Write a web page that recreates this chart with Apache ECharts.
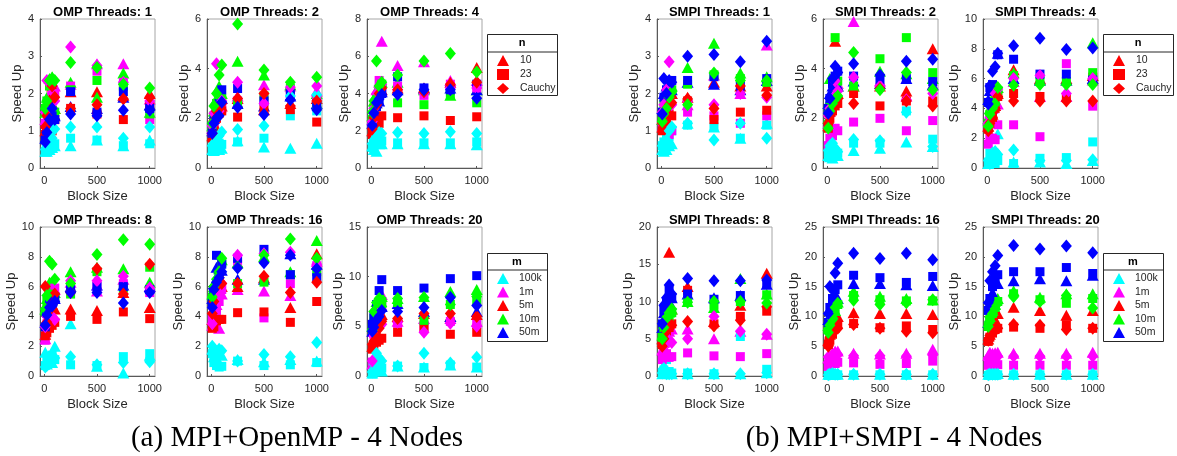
<!DOCTYPE html>
<html>
<head>
<meta charset="utf-8">
<script src="https://cdn.jsdelivr.net/npm/echarts@6/dist/echarts.min.js"></script>
<style>
  html, body { margin: 0; padding: 0; background: #fff; }
  #main { width: 1177px; height: 456px; }
</style>
</head>
<body>
<div id="main"></div>
<script>
// block sizes on the x axis
var blockSizes = [10, 25, 50, 75, 100, 250, 500, 750, 1000];
var mNames = ['100k', '1m', '5m', '10m', '50m'];
var mColors = ['#00ffff', '#ff00ff', '#ff0000', '#00ff00', '#0000ff'];
var nNames = ['10', '23', 'Cauchy'];
var nSymbols = ['triangle', 'rect', 'diamond'];

var panelTitles = ['OMP Threads: 1', 'OMP Threads: 2', 'OMP Threads: 4',
                   'OMP Threads: 8', 'OMP Threads: 16', 'OMP Threads: 20',
                   'SMPI Threads: 1', 'SMPI Threads: 2', 'SMPI Threads: 4',
                   'SMPI Threads: 8', 'SMPI Threads: 16', 'SMPI Threads: 20'];
var yMax = [4, 6, 8, 10, 10, 15, 4, 6, 10, 20, 25, 25];
var yStep = [1, 2, 2, 2, 2, 5, 1, 2, 2, 5, 5, 5];
var xTicks = [0, 500, 1000];

// rows per panel: 100k (tri, sq, dia), 1m (...), 5m, 10m, 50m
var omp1 = [
  [0.45, 0.45, 0.5, 0.55, 0.6, 0.6, 0.75, 0.6, 0.75],
  [0.45, 0.5, 0.55, 0.6, 0.65, 0.8, 0.75, 0.6, 0.65],
  [0.5, 0.6, 0.7, 0.8, 1.05, 1.1, 1.1, 0.8, 1.1],
  [1.3, 1.7, 1.9, 2.1, 2.2, 2.25, 2.8, 2.8, 1.85],
  [1.2, 1.5, 1.8, 2.0, 2.0, 2.2, 2.6, 2.3, 1.3],
  [1.5, 2.35, 2.3, 2.0, 1.8, 3.25, 2.75, 2.3, 1.8],
  [1.0, 1.2, 1.5, 2.2, 1.6, 2.05, 2.05, 1.95, 2.0],
  [0.9, 1.0, 1.05, 1.0, 1.3, 1.6, 1.45, 1.3, 1.65],
  [1.1, 1.4, 1.8, 2.2, 1.9, 1.6, 1.7, 1.85, 1.9],
  [1.5, 1.9, 2.4, 2.45, 1.6, 2.3, 1.9, 2.55, 1.5],
  [1.6, 1.8, 2.2, 2.3, 1.5, 2.1, 2.35, 2.2, 1.45],
  [1.6, 1.8, 2.35, 2.4, 2.35, 2.83, 2.7, 2.25, 2.15],
  [0.8, 1.1, 1.3, 1.5, 1.4, 1.65, 1.6, 1.9, 1.7],
  [0.75, 1.0, 1.2, 1.4, 1.3, 2.05, 1.5, 2.05, 1.6],
  [0.7, 0.95, 1.3, 1.6, 1.3, 1.45, 1.4, 1.55, 1.55]
];
var omp2 = [
  [0.75, 0.7, 0.8, 0.75, 0.8, 1.1, 0.85, 0.8, 1.0],
  [0.8, 0.85, 0.9, 1.0, 0.95, 1.05, 1.2, 2.1, 2.3],
  [0.9, 1.0, 1.2, 1.3, 1.45, 1.55, 1.7, 2.9, 2.95],
  [1.6, 2.0, 2.4, 2.6, 2.8, 2.9, 3.35, 3.3, 3.1],
  [1.5, 1.8, 2.1, 2.3, 2.4, 2.7, 2.75, 3.0, 2.8],
  [1.7, 2.2, 4.2, 2.3, 2.7, 3.45, 2.6, 3.25, 3.3],
  [1.3, 1.8, 2.2, 2.4, 2.5, 2.8, 2.35, 2.6, 2.8],
  [1.2, 1.6, 2.0, 2.2, 2.3, 2.05, 2.35, 2.35, 1.85],
  [1.4, 1.9, 2.3, 2.4, 2.6, 2.8, 3.0, 2.5, 2.7],
  [1.7, 2.3, 2.8, 3.3, 3.0, 4.3, 3.75, 3.35, 3.0],
  [1.6, 2.1, 2.6, 2.9, 2.8, 2.6, 2.9, 3.2, 2.5],
  [1.8, 2.5, 3.0, 3.75, 4.15, 5.8, 3.95, 3.45, 3.65],
  [1.5, 2.0, 2.4, 2.7, 2.8, 2.6, 2.5, 2.9, 2.6],
  [1.4, 1.9, 2.3, 2.6, 3.15, 3.2, 2.7, 3.0, 2.6],
  [1.4, 1.8, 2.0, 2.1, 2.65, 2.45, 2.15, 2.75, 2.35]
];
var omp4 = [
  [1.2, 1.0, 0.9, 1.3, 1.3, 1.3, 1.3, 1.3, 1.25],
  [1.1, 1.2, 1.4, 1.5, 1.45, 1.35, 1.35, 1.35, 1.4],
  [1.3, 1.5, 1.7, 1.9, 1.85, 1.9, 1.85, 1.95, 1.85],
  [2.6, 3.3, 4.2, 4.6, 6.8, 5.5, 5.7, 4.7, 4.7],
  [2.4, 3.0, 3.8, 4.7, 4.3, 4.4, 3.9, 4.5, 4.3],
  [2.5, 3.2, 4.0, 4.4, 4.5, 4.2, 4.0, 4.3, 4.3],
  [2.0, 2.8, 3.5, 4.1, 4.2, 4.3, 4.3, 4.6, 5.4],
  [1.8, 2.2, 2.6, 2.4, 2.8, 2.7, 2.8, 2.55, 2.75],
  [2.1, 2.7, 3.4, 4.0, 4.3, 4.2, 4.1, 4.5, 4.6],
  [2.8, 3.6, 4.0, 4.4, 4.6, 4.6, 4.2, 3.9, 4.2],
  [2.6, 3.2, 3.8, 4.2, 4.5, 3.5, 3.4, 3.9, 3.5],
  [3.0, 3.6, 5.75, 4.4, 4.6, 5.0, 5.75, 6.15, 5.15],
  [2.4, 3.0, 3.5, 3.6, 4.1, 4.2, 4.3, 4.3, 4.2],
  [2.3, 3.0, 3.3, 3.6, 4.0, 4.9, 4.3, 4.2, 4.5],
  [2.3, 2.95, 3.5, 3.7, 3.95, 3.95, 4.2, 4.2, 3.75]
];
var omp8 = [
  [1.6, 0.8, 1.2, 0.9, 2.0, 3.5, 0.65, 0.2, 1.4],
  [0.7, 1.0, 1.3, 1.4, 1.1, 0.75, 0.7, 1.3, 1.5],
  [0.6, 0.7, 0.9, 1.1, 1.2, 1.3, 0.75, 0.9, 0.95],
  [2.5, 4.5, 5.5, 6.0, 5.8, 6.3, 5.7, 6.5, 6.0],
  [2.4, 3.5, 4.5, 5.5, 5.9, 6.0, 6.0, 6.2, 5.6],
  [3.3, 4.0, 4.5, 4.0, 3.8, 6.4, 6.4, 6.7, 5.9],
  [2.8, 3.5, 4.5, 4.8, 4.5, 4.5, 4.4, 5.6, 4.6],
  [2.7, 2.9, 3.2, 3.4, 3.6, 4.0, 3.8, 4.3, 3.85],
  [6.0, 3.6, 4.4, 4.8, 5.5, 5.6, 7.2, 5.5, 7.5],
  [4.5, 5.2, 6.3, 6.0, 5.6, 7.0, 7.3, 7.2, 6.3],
  [4.3, 5.0, 5.5, 5.2, 5.3, 5.5, 7.0, 5.9, 7.3],
  [4.5, 5.4, 7.7, 7.5, 6.5, 6.2, 8.15, 9.15, 8.85],
  [3.6, 4.5, 5.0, 5.1, 5.2, 6.0, 6.1, 6.1, 6.0],
  [3.3, 4.2, 4.9, 5.2, 5.3, 5.8, 6.0, 6.0, 5.8],
  [3.4, 4.1, 4.6, 4.7, 5.0, 5.6, 5.6, 4.9, 5.6]
];
var omp16 = [
  [1.8, 1.3, 1.0, 0.9, 1.4, 1.1, 0.95, 1.1, 1.0],
  [1.5, 0.9, 0.7, 0.6, 0.65, 1.0, 0.7, 0.75, 0.9],
  [2.0, 1.7, 1.5, 1.8, 1.7, 1.0, 1.45, 1.3, 2.25],
  [3.4, 4.0, 4.8, 3.2, 5.5, 5.8, 5.7, 5.4, 7.7],
  [3.8, 4.2, 4.4, 5.0, 5.8, 7.5, 3.9, 6.2, 7.4],
  [3.5, 4.5, 5.5, 5.9, 6.2, 8.1, 8.2, 8.3, 7.5],
  [3.8, 5.0, 6.3, 7.5, 6.0, 6.0, 6.6, 4.6, 8.2],
  [3.2, 3.3, 3.7, 3.8, 3.8, 4.25, 4.3, 3.6, 5.0],
  [4.2, 5.0, 6.0, 6.6, 6.2, 6.2, 6.7, 5.6, 6.3],
  [5.5, 6.0, 6.5, 7.2, 7.8, 7.6, 8.0, 7.0, 9.1],
  [5.3, 5.8, 6.2, 6.8, 7.6, 6.2, 6.3, 6.8, 7.0],
  [5.3, 6.0, 6.5, 7.0, 7.9, 7.3, 8.1, 9.2, 7.9],
  [5.2, 6.2, 7.3, 7.5, 7.1, 6.5, 6.5, 8.2, 7.5],
  [5.0, 5.8, 8.1, 7.0, 7.5, 7.9, 8.5, 6.8, 6.6],
  [4.6, 5.8, 6.3, 6.6, 7.0, 7.25, 7.6, 8.1, 7.2]
];
var omp20 = [
  [0.3, 0.5, 1.5, 0.9, 0.5, 1.0, 0.9, 1.1, 0.9],
  [0.2, 0.4, 0.6, 1.2, 0.8, 1.0, 0.85, 1.1, 0.9],
  [0.4, 1.2, 2.3, 1.8, 1.5, 1.0, 2.3, 1.3, 1.9],
  [1.2, 4.5, 6.0, 7.0, 8.2, 5.5, 5.8, 5.8, 5.5],
  [1.4, 4.2, 5.5, 6.5, 7.0, 5.3, 5.0, 5.5, 5.2],
  [1.5, 4.0, 5.0, 6.5, 5.2, 5.4, 4.4, 5.3, 5.0],
  [3.0, 3.6, 4.5, 5.5, 6.2, 6.0, 6.3, 6.0, 6.2],
  [2.7, 3.2, 3.4, 3.6, 3.8, 4.4, 4.8, 4.2, 4.4],
  [3.2, 3.5, 3.8, 4.8, 5.5, 5.8, 6.3, 6.3, 6.0],
  [5.0, 6.0, 7.5, 7.8, 8.0, 7.8, 8.0, 8.5, 8.7],
  [4.8, 5.8, 7.0, 7.3, 7.5, 7.4, 5.6, 7.2, 7.6],
  [4.6, 6.5, 7.4, 7.8, 7.0, 7.8, 7.9, 7.2, 8.0],
  [4.5, 5.5, 6.5, 7.2, 7.0, 7.3, 6.5, 6.0, 6.5],
  [5.2, 6.0, 7.2, 8.6, 9.7, 8.6, 8.85, 9.8, 10.1],
  [4.5, 4.9, 5.6, 6.0, 6.6, 6.5, 6.9, 7.9, 7.1]
];
var smpi1 = [
  [0.5, 0.45, 0.5, 0.6, 0.65, 1.2, 1.1, 0.8, 1.2],
  [0.6, 0.7, 0.8, 0.85, 1.0, 1.15, 1.1, 0.8, 1.15],
  [0.6, 0.65, 0.75, 1.0, 1.1, 1.2, 0.75, 1.2, 0.8],
  [1.3, 1.6, 1.8, 1.9, 2.0, 1.7, 2.5, 2.0, 3.3],
  [1.1, 1.3, 1.5, 0.9, 1.0, 1.5, 1.4, 1.2, 1.4],
  [1.5, 1.7, 2.1, 2.85, 1.7, 1.8, 1.7, 2.0, 1.9],
  [1.1, 1.3, 1.6, 1.8, 2.0, 1.9, 2.3, 2.2, 2.2],
  [1.0, 1.1, 1.2, 1.45, 1.4, 1.8, 1.3, 1.5, 1.55],
  [1.2, 1.4, 1.6, 1.7, 1.75, 1.85, 1.6, 2.2, 1.95],
  [1.3, 1.6, 2.0, 2.1, 2.2, 2.7, 3.35, 2.55, 2.45],
  [1.4, 1.7, 1.9, 2.0, 2.1, 2.25, 2.5, 2.4, 2.3],
  [1.25, 1.45, 1.6, 1.9, 2.05, 1.7, 2.55, 2.35, 2.35],
  [1.6, 2.0, 2.2, 2.3, 2.1, 2.3, 2.25, 2.1, 2.35],
  [1.5, 1.9, 2.1, 2.2, 2.35, 2.35, 2.45, 2.2, 2.4],
  [1.45, 2.4, 2.0, 2.35, 2.3, 3.0, 3.05, 2.85, 3.4]
];
var smpi2 = [
  [0.5, 0.45, 0.4, 0.6, 0.5, 0.7, 0.8, 1.05, 0.87],
  [0.6, 0.9, 0.7, 0.5, 0.6, 1.0, 1.0, 2.3, 1.16],
  [0.7, 0.9, 1.0, 0.8, 0.65, 1.15, 1.1, 2.25, 0.87],
  [1.8, 2.3, 2.6, 3.0, 3.4, 5.9, 3.5, 2.9, 3.35],
  [0.9, 1.2, 1.3, 1.6, 1.5, 1.85, 2.0, 1.5, 1.91],
  [2.1, 2.4, 2.8, 3.5, 3.1, 3.65, 3.3, 2.75, 3.0],
  [1.7, 2.3, 2.8, 5.1, 3.0, 3.3, 3.3, 3.1, 4.8],
  [1.6, 2.0, 2.3, 2.5, 2.6, 3.0, 2.5, 2.7, 2.7],
  [1.8, 2.1, 2.4, 2.5, 2.8, 2.6, 3.2, 2.7, 2.5],
  [2.0, 3.6, 2.8, 3.3, 3.3, 3.3, 3.9, 3.8, 3.6],
  [2.3, 2.5, 2.7, 5.25, 3.5, 3.3, 4.4, 5.25, 3.84],
  [1.6, 2.3, 2.6, 2.8, 2.9, 4.65, 3.15, 3.85, 3.15],
  [2.6, 3.0, 3.3, 3.6, 3.3, 3.5, 3.4, 3.6, 3.35],
  [2.4, 2.8, 3.4, 3.7, 3.9, 3.7, 3.55, 3.6, 3.48],
  [2.2, 2.8, 3.6, 4.1, 3.85, 4.2, 3.75, 4.3, 4.38]
];
var smpi4 = [
  [0.3, 0.5, 0.9, 1.0, 2.3, 0.4, 0.4, 0.3, 0.5],
  [0.4, 1.0, 0.6, 0.3, 0.5, 0.3, 0.65, 0.7, 1.75],
  [0.5, 0.3, 1.0, 1.1, 0.9, 1.2, 0.5, 0.5, 0.55],
  [3.2, 3.6, 4.0, 4.2, 4.3, 5.8, 4.8, 4.8, 5.9],
  [1.6, 2.0, 2.0, 1.9, 2.9, 2.9, 2.1, 7.0, 4.15],
  [3.0, 3.4, 3.9, 5.0, 5.3, 6.0, 6.2, 5.0, 6.0],
  [2.8, 3.2, 3.6, 4.2, 5.0, 6.6, 6.0, 6.0, 6.2],
  [2.6, 3.0, 3.4, 4.0, 4.8, 5.0, 4.8, 4.7, 6.1],
  [2.5, 3.0, 3.4, 4.0, 4.8, 4.5, 4.5, 4.5, 4.5],
  [3.3, 4.0, 4.5, 5.0, 5.4, 6.4, 5.9, 5.9, 8.4],
  [3.0, 3.6, 4.0, 4.5, 5.2, 6.2, 5.8, 5.8, 6.4],
  [2.8, 3.6, 4.0, 4.3, 5.4, 5.55, 5.6, 5.6, 5.6],
  [4.6, 5.2, 5.5, 5.4, 7.7, 6.0, 5.9, 5.9, 6.0],
  [4.4, 5.4, 5.6, 5.2, 7.6, 7.3, 6.3, 6.3, 5.9],
  [4.3, 5.5, 6.5, 6.8, 7.7, 8.2, 8.7, 7.95, 8.05]
];
var smpi8 = [
  [0.3, 1.5, 0.5, 0.4, 0.3, 0.3, 0.3, 0.3, 0.45],
  [0.5, 0.8, 2.2, 0.6, 0.4, 0.4, 0.3, 5.3, 0.9],
  [0.4, 1.0, 0.3, 0.3, 0.3, 0.3, 0.3, 0.3, 0.45],
  [3.5, 4.5, 5.0, 6.0, 6.3, 6.3, 5.0, 6.0, 5.6],
  [2.2, 2.6, 3.0, 2.5, 2.6, 3.1, 2.7, 2.6, 3.0],
  [3.0, 3.4, 4.3, 4.8, 4.5, 5.0, 8.0, 6.0, 5.6],
  [5.0, 6.0, 7.5, 16.6, 9.0, 12.0, 7.3, 9.5, 13.8],
  [4.2, 5.0, 6.0, 6.5, 7.0, 11.5, 7.0, 8.0, 8.7],
  [4.0, 5.0, 6.0, 6.5, 6.8, 7.3, 6.7, 7.5, 9.3],
  [5.5, 7.0, 8.0, 8.6, 9.0, 10.0, 9.2, 13.1, 11.0],
  [5.2, 6.5, 7.5, 8.0, 8.5, 10.0, 9.5, 10.0, 10.9],
  [5.0, 6.5, 7.8, 8.5, 9.0, 9.9, 10.0, 10.0, 9.8],
  [6.5, 8.5, 9.5, 10.0, 10.5, 11.0, 10.5, 10.8, 12.3],
  [7.0, 8.8, 10.0, 11.5, 10.5, 11.0, 10.3, 10.8, 12.5],
  [7.0, 9.5, 10.5, 12.2, 11.0, 13.1, 12.8, 12.8, 12.9]
];
var smpi16 = [
  [0.3, 0.3, 0.5, 0.3, 0.3, 0.3, 0.3, 0.3, 0.3],
  [0.1, 0.2, 0.3, 0.2, 0.2, 0.2, 0.2, 0.2, 0.2],
  [0.2, 0.3, 0.4, 0.3, 0.3, 0.3, 0.3, 0.3, 0.3],
  [3.0, 3.5, 4.0, 4.2, 4.2, 3.8, 3.7, 3.8, 4.5],
  [1.6, 2.0, 2.2, 2.1, 2.3, 2.2, 1.95, 2.1, 2.5],
  [3.2, 3.0, 3.3, 3.4, 3.6, 3.4, 3.4, 3.3, 3.5],
  [6.0, 7.0, 8.5, 9.5, 10.0, 10.6, 10.5, 10.5, 10.3],
  [5.3, 6.0, 7.0, 8.0, 8.6, 8.8, 8.1, 8.4, 7.8],
  [5.0, 6.5, 7.5, 7.8, 8.0, 8.65, 8.0, 7.5, 7.25],
  [8.5, 9.5, 10.5, 11.0, 12.4, 14.2, 13.4, 13.0, 12.8],
  [7.8, 9.0, 10.0, 11.0, 12.0, 13.5, 12.8, 12.6, 12.6],
  [7.3, 8.5, 9.5, 11.5, 12.2, 12.7, 12.0, 12.3, 12.8],
  [9.5, 11.0, 12.5, 13.5, 13.0, 15.5, 15.5, 15.3, 15.2],
  [9.0, 11.5, 13.0, 14.5, 15.3, 16.9, 16.5, 15.7, 16.7],
  [10.5, 15.0, 14.5, 17.3, 18.9, 20.6, 19.7, 20.6, 19.5]
];
var smpi20 = [
  [0.3, 0.4, 0.3, 0.3, 0.4, 0.3, 0.3, 0.3, 0.3],
  [0.1, 0.2, 0.2, 0.2, 0.2, 0.2, 0.2, 0.2, 0.2],
  [0.2, 0.3, 0.3, 0.3, 0.3, 0.3, 0.3, 0.3, 0.3],
  [3.5, 4.0, 3.8, 3.9, 4.0, 3.8, 3.8, 3.8, 4.0],
  [1.8, 1.9, 2.0, 2.0, 1.9, 1.8, 1.8, 1.8, 1.8],
  [3.0, 3.2, 3.3, 3.4, 3.3, 3.3, 3.3, 3.3, 3.3],
  [6.2, 7.0, 8.0, 9.5, 10.5, 11.55, 11.0, 10.2, 11.0],
  [5.8, 6.5, 7.2, 7.8, 8.0, 8.2, 8.0, 8.6, 8.0],
  [6.0, 6.8, 7.5, 7.8, 8.0, 8.65, 8.5, 7.8, 8.0],
  [9.0, 10.0, 11.0, 12.0, 13.0, 14.3, 13.2, 13.8, 13.8],
  [8.3, 9.5, 10.5, 11.5, 12.5, 13.8, 12.8, 12.2, 13.0],
  [8.3, 9.8, 10.5, 11.3, 12.2, 13.3, 12.5, 13.5, 11.4],
  [9.0, 12.0, 14.0, 15.5, 15.5, 16.0, 16.3, 16.0, 16.9],
  [11.0, 13.0, 15.0, 16.5, 17.0, 17.5, 17.5, 18.2, 17.2],
  [12.3, 16.0, 17.5, 18.5, 20.2, 21.9, 21.3, 21.8, 20.7]
];

var panels = [omp1, omp2, omp4, omp8, omp16, omp20,
              smpi1, smpi2, smpi4, smpi8, smpi16, smpi20];

var chart = echarts.init(document.getElementById('main'));
var textColor = '#262626';
var font = 'Liberation Sans, Arial, sans-serif';
var colLefts = [40, 207, 367, 657, 823, 983];
var rowTops = [19, 227];
var gridW = 115, gridH = 149;
var symSizes = [[12, 11], [9, 9], [11, 13]];

var grids = [], xAxes = [], yAxes = [], titles = [], series = [];
panels.forEach(function (rows, p) {
  var g = p < 6 ? 0 : 1;
  var local = p % 6;
  var left = colLefts[g * 3 + local % 3];
  var top = rowTops[Math.floor(local / 3)];
  grids.push({ left: left, top: top, width: gridW, height: gridH,
    show: true, borderColor: '#a6a6a6', borderWidth: 1, backgroundColor: '#fff' });
  xAxes.push({ gridIndex: p, type: 'value', min: -40, max: 1050,
    name: 'Block Size', nameLocation: 'middle', nameGap: 22,
    nameTextStyle: { color: textColor, fontSize: 13, fontFamily: font },
    axisLine: { onZero: false, lineStyle: { color: '#595959' } },
    axisTick: { inside: true, length: 2, customValues: xTicks, lineStyle: { color: '#595959' } },
    axisLabel: { customValues: xTicks, color: textColor, fontSize: 11, fontFamily: font, margin: 7,
      formatter: function (v) { return String(v); } },
    splitLine: { show: false } });
  yAxes.push({ gridIndex: p, type: 'value', min: 0, max: yMax[p], interval: yStep[p],
    name: 'Speed Up', nameLocation: 'middle', nameGap: 15,
    nameTextStyle: { color: textColor, fontSize: 13, fontFamily: font },
    axisLine: { show: true, onZero: false, lineStyle: { color: '#595959' } },
    axisTick: { show: true, inside: true, length: 2, lineStyle: { color: '#595959' } },
    axisLabel: { color: textColor, fontSize: 11, fontFamily: font, margin: 6 },
    splitLine: { show: false } });
  titles.push({ text: panelTitles[p], left: left + gridW / 2, top: top - 18, textAlign: 'center',
    textStyle: { color: '#000', fontSize: 13, fontWeight: 'bold', fontFamily: font } });
  for (var n = 0; n < 3; n++) {
    for (var m = 0; m < 5; m++) {
      var vals = rows[m * 3 + n];
      series.push({
        type: 'scatter', xAxisIndex: p, yAxisIndex: p, silent: true,
        symbol: nSymbols[n], symbolSize: symSizes[n],
        itemStyle: { color: mColors[m], opacity: 1 },
        data: blockSizes.map(function (b, i) { return [b, vals[i]]; })
      });
    }
  }
});

// empty series so the two legends have entries
nNames.forEach(function (name, i) {
  series.push({ type: 'scatter', name: name, xAxisIndex: 0, yAxisIndex: 0,
    symbol: nSymbols[i], itemStyle: { color: '#ff0000', opacity: 1 }, data: [] });
});
mNames.forEach(function (name, i) {
  series.push({ type: 'scatter', name: name, xAxisIndex: 0, yAxisIndex: 0,
    symbol: 'triangle', itemStyle: { color: mColors[i], opacity: 1 }, data: [] });
});

function legendItem(name, icon, color) {
  return { name: name, icon: icon, itemStyle: { color: color, opacity: 1 } };
}
function legendN(left) {
  return { orient: 'vertical', left: left + 10, top: 55, itemWidth: 12, itemHeight: 11, itemGap: 3,
    selectedMode: false, z: 10, padding: 0,
    textStyle: { color: textColor, fontSize: 10.5, fontFamily: font, padding: [0, 0, 0, 6] },
    data: nNames.map(function (nm, i) { return legendItem(nm, nSymbols[i], '#ff0000'); }) };
}
function legendM(left) {
  return { orient: 'vertical', left: left + 10, top: 273, itemWidth: 12, itemHeight: 11, itemGap: 2.5,
    selectedMode: false, z: 10, padding: 0,
    textStyle: { color: textColor, fontSize: 10.5, fontFamily: font, padding: [0, 0, 0, 5] },
    data: mNames.map(function (nm, i) { return legendItem(nm, 'triangle', mColors[i]); }) };
}

function legendBox(left, top, w, h, lineY, label) {
  return [
    { type: 'rect', left: left, top: top, z: 5,
      shape: { width: w, height: h },
      style: { fill: '#fff', stroke: '#262626', lineWidth: 1 } },
    { type: 'line', z: 6, shape: { x1: left, y1: lineY, x2: left + w, y2: lineY },
      style: { stroke: '#262626', lineWidth: 1 } },
    { type: 'text', z: 6, x: left + w / 2, y: (top + lineY) / 2,
      style: { text: label, fill: '#000', font: 'bold 11px ' + font, align: 'center', verticalAlign: 'middle' } }
  ];
}

var captionFont = '29px Liberation Serif, Times New Roman, serif';
var graphics = []
  .concat(legendBox(487, 34, 70, 61, 52, 'n'))
  .concat(legendBox(487, 253, 60, 88, 270, 'm'))
  .concat(legendBox(1103, 34, 70, 61, 52, 'n'))
  .concat(legendBox(1103, 253, 60, 88, 270, 'm'))
  .concat([
    { type: 'text', x: 297, y: 438, z: 6,
      style: { text: '(a) MPI+OpenMP - 4 Nodes', fill: '#000', font: captionFont,
        align: 'center', verticalAlign: 'middle' } },
    { type: 'text', x: 894, y: 438, z: 6,
      style: { text: '(b) MPI+SMPI - 4 Nodes', fill: '#000', font: captionFont,
        align: 'center', verticalAlign: 'middle' } }
  ]);

var option = {
  animation: false,
  backgroundColor: '#fff',
  title: titles,
  grid: grids,
  xAxis: xAxes,
  yAxis: yAxes,
  legend: [legendN(487), legendM(487), legendN(1103), legendM(1103)],
  graphic: graphics,
  series: series
};
option && chart.setOption(option);
</script>
</body>
</html>
